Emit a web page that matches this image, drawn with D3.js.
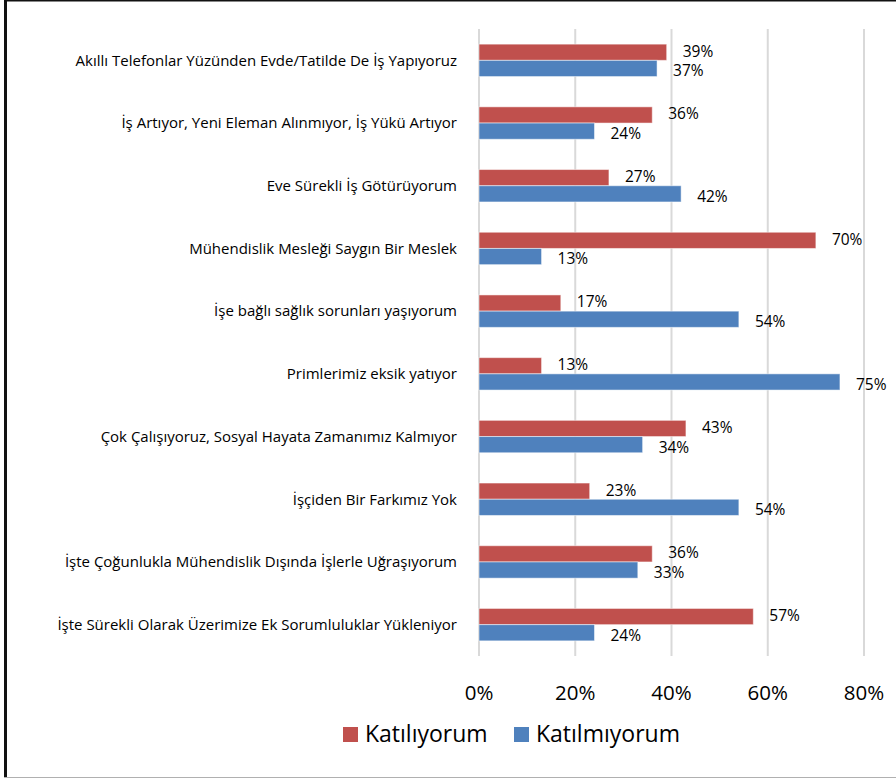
<!DOCTYPE html>
<html lang="tr">
<head>
  <meta charset="UTF-8">
  <title>Katılıyorum / Katılmıyorum</title>
  <script src="https://d3js.org/d3.v7.min.js"></script>
  <style>
    body {
      margin: 0;
      background: #fff;
      font-family: "Open Sans", sans-serif;
    }

    .grid line {
      stroke: #d9d9d9;
      stroke-width: 2px;
    }

    .cat {
      font-size: 15px;
      fill: #000;
    }

    .val {
      font-size: 15.5px;
      fill: #000;
    }
  </style>
</head>
<body>
  <div id="chart"></div>

  <script>
    const categories = [
      "Akıllı Telefonlar Yüzünden Evde/Tatilde De İş Yapıyoruz",
      "İş Artıyor, Yeni Eleman Alınmıyor, İş Yükü Artıyor",
      "Eve Sürekli İş Götürüyorum",
      "Mühendislik Mesleği Saygın Bir Meslek",
      "İşe bağlı sağlık sorunları yaşıyorum",
      "Primlerimiz eksik yatıyor",
      "Çok Çalışıyoruz, Sosyal Hayata Zamanımız Kalmıyor",
      "İşçiden Bir Farkımız Yok",
      "İşte Çoğunlukla Mühendislik Dışında İşlerle Uğraşıyorum",
      "İşte Sürekli Olarak Üzerimize Ek Sorumluluklar Yükleniyor"
    ];
    const seriesNames = ["Katılıyorum", "Katılmıyorum"];
    const katiliyorum = [39, 36, 27, 70, 17, 13, 43, 23, 36, 57];
    const katilmiyorum = [37, 24, 42, 13, 54, 75, 34, 54, 33, 24];
    const xTicks = [0, 20, 40, 60, 80];

    const colors = { "Katılıyorum": "#c0504d", "Katılmıyorum": "#4f81bd" };

    const width = 896;
    const height = 779;

    const rows = categories.map((c, i) => ({
      cat: c,
      values: [
        { key: seriesNames[0], value: katiliyorum[i] },
        { key: seriesNames[1], value: katilmiyorum[i] }
      ]
    }));

    const svg = d3.select("#chart")
      .append("svg")
      .attr("width", width)
      .attr("height", height);

    // çerçeve
    svg.append("line").attr("x1", 5.5).attr("x2", 5.5).attr("y1", 0).attr("y2", 778)
      .attr("stroke", "#111").attr("stroke-width", 3);
    svg.append("line").attr("x1", 4).attr("x2", width).attr("y1", 0.75).attr("y2", 0.75)
      .attr("stroke", "#111").attr("stroke-width", 1.5);
    svg.append("line").attr("x1", 4).attr("x2", width).attr("y1", 777.5).attr("y2", 777.5)
      .attr("stroke", "#b0b0b0").attr("stroke-width", 1);

    const x = d3.scaleLinear().domain([0, 80]).range([479, 864]);

    const y = d3.scaleBand()
      .domain(categories)
      .range([29, 656])
      .paddingInner(0.483)
      .paddingOuter(0.2415);

    const ySub = d3.scaleBand()
      .domain(seriesNames)
      .range([0, y.bandwidth()]);

    // ızgara
    svg.append("g")
      .attr("class", "grid")
      .selectAll("line")
      .data(xTicks)
      .enter()
      .append("line")
      .attr("x1", d => x(d))
      .attr("x2", d => x(d))
      .attr("y1", 29)
      .attr("y2", 656);

    // kategori etiketleri
    svg.append("g")
      .selectAll("text")
      .data(categories)
      .enter()
      .append("text")
      .attr("class", "cat")
      .attr("x", 457)
      .attr("y", d => y(d) + y.bandwidth() / 2)
      .attr("dy", "0.35em")
      .attr("text-anchor", "end")
      .text(d => d);

    const group = svg.append("g")
      .selectAll("g")
      .data(rows)
      .enter()
      .append("g")
      .attr("transform", d => `translate(0,${y(d.cat)})`);

    group.selectAll("rect")
      .data(d => d.values)
      .enter()
      .append("rect")
      .attr("x", x(0))
      .attr("y", d => ySub(d.key))
      .attr("width", d => x(d.value) - x(0))
      .attr("height", ySub.bandwidth())
      .attr("fill", d => colors[d.key])
      .attr("stroke", "rgba(255,255,255,0.5)")
      .attr("stroke-width", 1);

    // veri etiketleri (üst üste binmesin diye hafif kaydırma)
    const labelShift = { "Katılıyorum": -1, "Katılmıyorum": 2.5 };
    group.selectAll("text")
      .data(d => d.values)
      .enter()
      .append("text")
      .attr("class", "val")
      .attr("x", d => x(d.value) + 16)
      .attr("y", d => ySub(d.key) + ySub.bandwidth() / 2 + labelShift[d.key])
      .attr("dy", "0.35em")
      .text(d => d.value + "%");

    // x ekseni etiketleri
    svg.append("g")
      .selectAll("text")
      .data(xTicks)
      .enter()
      .append("text")
      .attr("x", d => x(d))
      .attr("y", 700)
      .attr("text-anchor", "middle")
      .style("font-size", "20.5px")
      .text(d => d + "%");

    // lejant
    const legendX = [343, 514];
    const legend = svg.append("g")
      .selectAll("g")
      .data(seriesNames)
      .enter()
      .append("g")
      .attr("transform", (d, i) => `translate(${legendX[i]},727)`);

    legend.append("rect")
      .attr("width", 15)
      .attr("height", 15)
      .attr("fill", d => colors[d]);

    legend.append("text")
      .attr("x", 22)
      .attr("y", 15)
      .style("font-size", "23px")
      .text(d => d);
  </script>
</body>
</html>
